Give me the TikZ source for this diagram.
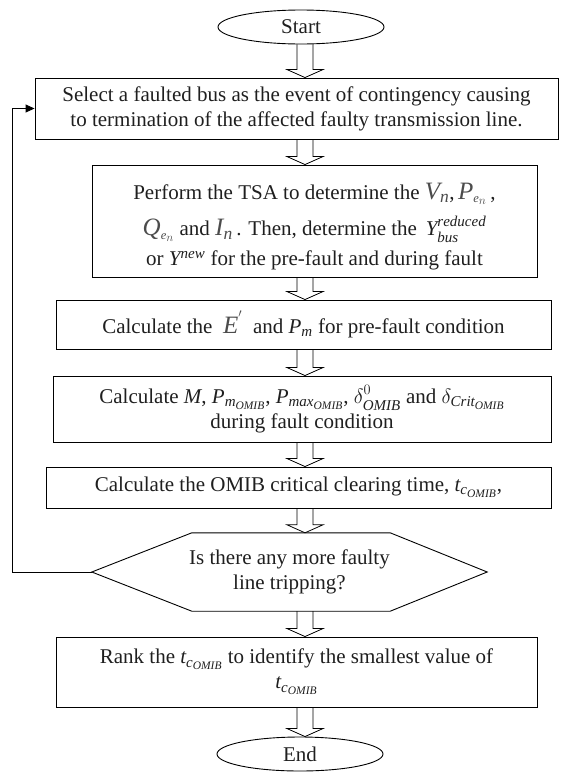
\documentclass[tikz,border=0pt]{standalone}
\usepackage{fontspec}
\setmainfont{Liberation Serif}
\usetikzlibrary{arrows.meta,calc,shapes.geometric}
\DeclareMathSizes{21}{21}{15}{11.5}
\newcommand\bigmath[1]{{\fontsize{25}{25}\selectfont\color{black!70}#1}}
\newcommand\OM{\mathit{OMIB}}
\newcommand\supup[1]{\raisebox{2pt}{$\scriptstyle #1$}}
\newcommand\subdn[1]{\raisebox{-1.5pt}{$\scriptstyle #1$}}
\begin{document}
\begin{tikzpicture}[x=1pt,y=-1pt,
  every node/.style={font=\fontsize{21}{25}\selectfont, text=black!88},
  box/.style={draw, line width=0.9pt, align=center, inner sep=0pt},
  term/.style={draw, ellipse, line width=0.9pt, inner sep=0pt},
  barr/.style={draw, line width=0.8pt},
  loopline/.style={draw, line width=0.9pt, -{Triangle[length=9pt,width=8pt]}}]
\useasboundingbox (0,0) rectangle (560,774);
\coordinate (ax) at (305,0);
\coordinate (lx) at (12,0);
\newcommand\blockarrow[2]{\draw[barr] let \p1=(#1.south), \p2=(#2.north), \p3=(ax) in
  (\x3-8pt,\y1) -- (\x3-8pt,\y2+8pt) -- (\x3-18pt,\y2+8pt) -- (\x3,\y2) -- (\x3+18pt,\y2+8pt) -- (\x3+8pt,\y2+8pt) -- (\x3+8pt,\y1);}

\node[term, minimum width=166pt, minimum height=34pt] (start) at (301,27) {Start};

\node[box, minimum width=523pt, minimum height=61pt] (b1) at (296.5,108.5)
  {Select a faulted bus as the event of contingency causing\\to termination of the affected faulty transmission line.};

\node[box, minimum width=445pt, minimum height=112pt] (b2) at (314.5,221)
  {\rule{0pt}{28pt}Perform the TSA to determine the \bigmath{$\mathit{V}_{\mathit{n}}$},\,\bigmath{$\mathit{P}_{\scriptscriptstyle\mathit{e}_{n}}$}\,,\\[10pt]
   \bigmath{$\mathit{Q}_{\scriptscriptstyle\mathit{e}_{n}}$} and \bigmath{$\mathit{I}_{\mathit{n}}$}\,. Then, determine the \,$\mathit{Y}^{\supup{\mathit{reduced}}}_{\subdn{\mathit{bus}}}$\\[5pt]
   or $\mathit{Y}^{\mathit{new}}_{\phantom{b}}$ for the pre-fault and during fault};

\node[box, minimum width=495pt, minimum height=49pt] (b3) at (303.5,324.5)
  {Calculate the \ \bigmath{$\mathit{E}^{'}$}\ \ and $\mathit{P}_{\mathit{m}}$ for pre-fault condition};

\node[box, minimum width=498pt, minimum height=66pt] (b4) at (302,409)
  {Calculate $\mathit{M}$, $\mathit{P}_{\mathit{m}_{\OM}}$, $\mathit{P}_{\mathit{max}_{\OM}}$, $\delta^{\supup{0}}_{\subdn{\OM}}$ and $\delta_{\mathit{Crit}_{\OM}}$\\during fault condition};

\node[box, minimum width=505pt, minimum height=41pt] (b5) at (298.5,487.5)
  {Calculate the OMIB critical clearing time, $\mathit{t}_{\mathit{c}_{\OM}}$,};

\node[minimum width=395pt, minimum height=78pt, align=center, inner sep=0pt] (dec) at (289.5,572)
  {Is there any more faulty\\line tripping?};
\draw[line width=0.9pt] (dec.west) -- ([xshift=100pt]dec.north west) -- ([xshift=-97pt]dec.north east)
  -- (dec.east) -- ([xshift=-97pt]dec.south east) -- ([xshift=100pt]dec.south west) -- cycle;

\node[box, minimum width=481pt, minimum height=70pt] (b6) at (296.5,672)
  {Rank the $\mathit{t}_{\mathit{c}_{\OM}}$ to identify the smallest value of\\$\mathit{t}_{\mathit{c}_{\OM}}$};

\node[term, minimum width=166pt, minimum height=34pt] (end) at (300,754) {End};

\blockarrow{start}{b1}
\blockarrow{b1}{b2}
\blockarrow{b2}{b3}
\blockarrow{b3}{b4}
\blockarrow{b4}{b5}
\blockarrow{b5}{dec}
\blockarrow{dec}{b6}
\blockarrow{b6}{end}

\draw[loopline] (dec.west) -- (dec.west -| lx) |- (b1.west);
\end{tikzpicture}
\end{document}
